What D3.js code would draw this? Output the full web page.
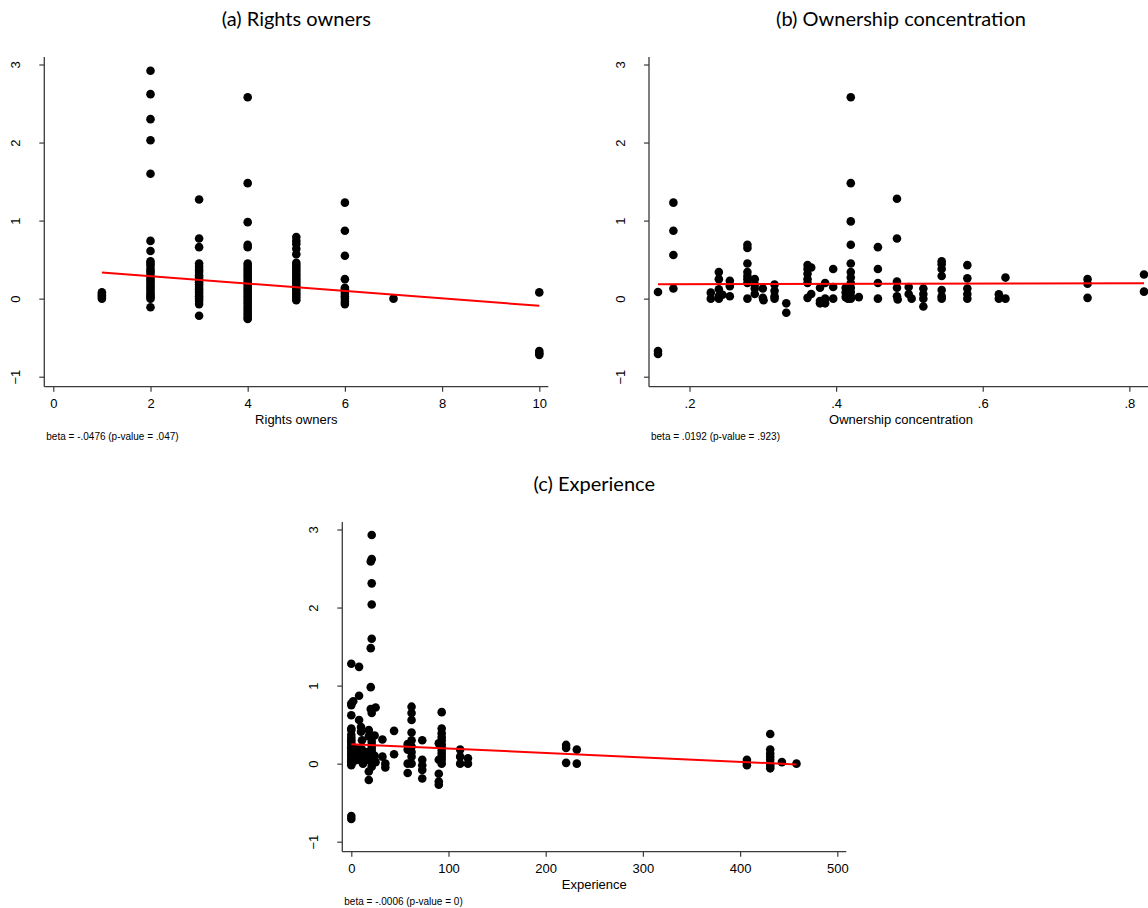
<!DOCTYPE html>
<html>
<head>
<meta charset="utf-8">
<script src="https://cdn.jsdelivr.net/npm/d3@7"></script>
<style>
  body { margin: 0; background: #fff; }
  svg { display: block; }
  .tick text { font-family: "Liberation Sans", Arial, sans-serif; font-size: 13px; fill: #000; }
</style>
</head>
<body>
<svg id="chart"></svg>
<script>
var width = 1148;
var height = 908;

// residuals vs number of rights owners
var rightsOwnersPts = [
  [1, 0.08], [1, 0.06], [1, 0.04], [1, 0.02], [1, 0.0],
  [2, 2.92], [2, 2.62], [2, 2.30], [2, 2.03], [2, 1.60], [2, 0.74], [2, 0.61], [2, 0.48], [2, 0.45],
  [2, 0.42], [2, 0.38], [2, 0.35], [2, 0.32], [2, 0.28], [2, 0.25], [2, 0.22], [2, 0.19], [2, 0.16],
  [2, 0.13], [2, 0.10], [2, 0.07], [2, 0.04], [2, 0.02], [2, 0.0], [2, -0.11],
  [3, 1.27], [3, 0.77], [3, 0.66], [3, 0.45], [3, 0.41], [3, 0.37], [3, 0.34], [3, 0.30], [3, 0.27],
  [3, 0.24], [3, 0.21], [3, 0.18], [3, 0.15], [3, 0.12], [3, 0.09], [3, 0.06], [3, 0.03], [3, 0.0],
  [3, -0.03], [3, -0.07], [3, -0.22],
  [4, 2.58], [4, 1.48], [4, 0.98], [4, 0.69], [4, 0.66], [4, 0.45], [4, 0.42], [4, 0.39], [4, 0.36],
  [4, 0.33], [4, 0.30], [4, 0.27], [4, 0.24], [4, 0.21], [4, 0.18], [4, 0.15], [4, 0.12], [4, 0.09],
  [4, 0.06], [4, 0.03], [4, 0.0], [4, -0.03], [4, -0.06], [4, -0.09], [4, -0.12], [4, -0.15], [4, -0.18],
  [4, -0.21], [4, -0.24], [4, -0.26],
  [5, 0.79], [5, 0.74], [5, 0.70], [5, 0.64], [5, 0.57], [5, 0.46], [5, 0.43], [5, 0.40], [5, 0.37],
  [5, 0.34], [5, 0.31], [5, 0.28], [5, 0.25], [5, 0.22], [5, 0.19], [5, 0.16], [5, 0.13], [5, 0.10],
  [5, 0.07], [5, 0.04], [5, 0.01], [5, -0.02],
  [6, 1.23], [6, 0.87], [6, 0.55], [6, 0.25], [6, 0.14], [6, 0.12], [6, 0.09], [6, 0.06], [6, 0.03],
  [6, 0.0], [6, -0.04], [6, -0.07],
  [7, 0.0],
  [10, 0.08], [10, -0.67], [10, -0.70], [10, -0.72]
];
var rightsOwnersFitX = [1, 10];
var rightsOwnersFitY = [0.336, -0.092];

// residuals vs ownership concentration
var concentrationPts = [
  [0.157, 0.085], [0.157, -0.67], [0.157, -0.71],
  [0.178, 1.23], [0.178, 0.87], [0.178, 0.56], [0.178, 0.13],
  [0.229, 0.077], [0.229, 0.0],
  [0.240, 0.34], [0.240, 0.25], [0.240, 0.12], [0.240, 0.03], [0.240, 0.0], [0.245, 0.05],
  [0.255, 0.23], [0.255, 0.16], [0.255, 0.03],
  [0.279, 0.69], [0.279, 0.65], [0.279, 0.45], [0.279, 0.34], [0.279, 0.29], [0.279, 0.25], [0.279, 0.20], [0.279, 0.0],
  [0.289, 0.25], [0.289, 0.18], [0.289, 0.13], [0.289, 0.06],
  [0.300, 0.13], [0.300, 0.01], [0.301, -0.02],
  [0.316, 0.18], [0.316, 0.10], [0.316, 0.03], [0.316, 0.0],
  [0.332, -0.06], [0.332, -0.18],
  [0.361, 0.43], [0.361, 0.38], [0.361, 0.32], [0.361, 0.25], [0.361, 0.20], [0.361, 0.01],
  [0.366, 0.40], [0.366, 0.06],
  [0.378, 0.14], [0.378, -0.03], [0.378, -0.06],
  [0.385, 0.20], [0.385, 0.0], [0.385, -0.06],
  [0.396, 0.38], [0.396, 0.15], [0.396, 0.0],
  [0.420, 2.58], [0.420, 1.48], [0.420, 0.99], [0.420, 0.69], [0.420, 0.45], [0.420, 0.34], [0.420, 0.27],
  [0.420, 0.20], [0.420, 0.14], [0.420, 0.085], [0.420, 0.03], [0.420, 0.0],
  [0.413, 0.14], [0.413, 0.08], [0.413, 0.02], [0.416, 0.11], [0.416, 0.0],
  [0.431, 0.02],
  [0.457, 0.66], [0.457, 0.38], [0.457, 0.20], [0.457, 0.0],
  [0.483, 1.28], [0.483, 0.77], [0.483, 0.22], [0.483, 0.14], [0.483, 0.03], [0.484, -0.01],
  [0.499, 0.15], [0.499, 0.06], [0.503, 0.0],
  [0.519, 0.13], [0.519, 0.06], [0.519, 0.0], [0.519, -0.10],
  [0.544, 0.48], [0.544, 0.44], [0.544, 0.38], [0.544, 0.29], [0.544, 0.11], [0.544, 0.03], [0.544, 0.0],
  [0.579, 0.43], [0.579, 0.26], [0.579, 0.13], [0.579, 0.06], [0.579, 0.0],
  [0.622, 0.055], [0.622, 0.0],
  [0.631, 0.27], [0.631, 0.0],
  [0.743, 0.25], [0.743, 0.19], [0.743, 0.01],
  [0.820, 0.31], [0.820, 0.09]
];
var concentrationFitX = [0.157, 0.820];
var concentrationFitY = [0.185, 0.198];

// residuals vs experience
var experiencePts = [
  [0, 1.28], [0, 0.77], [0, 0.75], [0, 0.62], [0, 0.45], [0, 0.43], [0, 0.37], [0, 0.33], [0, 0.30],
  [0, 0.27], [0, 0.24], [0, 0.21], [0, 0.18], [0, 0.15], [0, 0.12], [0, 0.09], [0, 0.06], [0, 0.03],
  [0, 0.0], [0, -0.02], [0, -0.67], [0, -0.71],
  [2, 0.80], [3, 0.20], [3, 0.10], [4, 0.04],
  [8, 1.24], [8, 0.87], [8, 0.56], [8, 0.18], [8, 0.12], [8, 0.05],
  [10, 0.47], [10, 0.41], [11, 0.30], [11, 0.18], [12, 0.09], [12, 0.0],
  [18, 0.43], [18, 0.35], [18, -0.10], [18, -0.21], [17, 0.15], [17, 0.05],
  [21, 2.93], [21, 2.62], [20, 2.59], [21, 2.31], [21, 2.04], [21, 1.60], [20, 1.48], [20, 0.98],
  [20, 0.70], [21, 0.65], [21, 0.33], [21, 0.28], [21, 0.24], [21, 0.20], [21, 0.16], [21, 0.12],
  [21, 0.08], [21, 0.04], [21, 0.0], [21, -0.04],
  [25, 0.72], [24, 0.36], [24, 0.10], [25, 0.02],
  [32, 0.31], [32, 0.09], [35, 0.0], [35, -0.05],
  [44, 0.42], [44, 0.12],
  [58, 0.25], [58, 0.18], [58, 0.0], [58, -0.12],
  [62, 0.73], [62, 0.65], [62, 0.56], [62, 0.40], [62, 0.30], [62, 0.22], [62, 0.15], [62, 0.09], [62, 0.0],
  [73, 0.30], [73, 0.05], [73, -0.02], [73, -0.08], [73, -0.19],
  [90, 0.26], [90, 0.05], [90, -0.13], [90, -0.23], [90, -0.27],
  [93, 0.66], [93, 0.45], [93, 0.39], [93, 0.34], [93, 0.30], [93, 0.25], [93, 0.21], [93, 0.17],
  [93, 0.13], [93, 0.09], [93, 0.05], [93, 0.0],
  [112, 0.18], [112, 0.09], [112, 0.0],
  [120, 0.07], [120, 0.0],
  [221, 0.24], [221, 0.20], [221, 0.01],
  [232, 0.18], [232, 0.0],
  [407, 0.05], [407, 0.01], [407, -0.02],
  [431, 0.38], [431, 0.18], [431, 0.13], [431, 0.09], [431, 0.05], [431, 0.0], [431, -0.03], [431, -0.06],
  [443, 0.02],
  [458, 0.0]
];
var experienceFitX = [0, 458];
var experienceFitY = [0.25, -0.01];

var yTicks = [-1, 0, 1, 2, 3];

var panels = [
  {
    title: "(a) Rights owners", xLabel: "Rights owners", note: "beta = -.0476 (p-value = .047)",
    pts: rightsOwnersPts, fitX: rightsOwnersFitX, fitY: rightsOwnersFitY,
    xTicks: [0, 2, 4, 6, 8, 10], fmt: d3.format("d"),
    left: 44.3, top: 0
  },
  {
    title: "(b) Ownership concentration", xLabel: "Ownership concentration", note: "beta = .0192 (p-value = .923)",
    pts: concentrationPts, fitX: concentrationFitX, fitY: concentrationFitY,
    xTicks: [0.2, 0.4, 0.6, 0.8], fmt: d => d3.format(".1f")(d).replace(/^0/, ""),
    left: 649, top: 0
  },
  {
    title: "(c) Experience", xLabel: "Experience", note: "beta = -.0006 (p-value = 0)",
    pts: experiencePts, fitX: experienceFitX, fitY: experienceFitY,
    xTicks: [0, 100, 200, 300, 400, 500], fmt: d3.format("d"),
    left: 342.3, top: 465
  }
];

var svg = d3.select("#chart")
    .attr("width", width)
    .attr("height", height);

var plotW = 504;     // axis length, px
var pad = 9;         // gap between axis ends and the data/tick extent
var axisColor = "#3a3a3a";

panels.forEach(function(p) {
  var g = svg.append("g").attr("transform", `translate(${p.left}, ${p.top})`);
  var bottom = 386.7;
  var topEdge = 57;

  // like stata: range covers both the data and the tick values
  var xDomain = d3.extent(p.xTicks.concat(p.pts.map(d => d[0])));
  var xScale = d3.scaleLinear()
      .domain(xDomain)
      .range([pad, plotW - pad]);
  // ticks for -1 .. 3 sit at 376.7 .. 64.5
  var yScale = d3.scaleLinear()
      .domain([-1, 3])
      .range([376.7, 64.5]);

  // title
  g.append("text")
      .attr("x", plotW / 2)
      .attr("y", 26)
      .attr("text-anchor", "middle")
      .style("font-family", "Lato, 'Open Sans', sans-serif")
      .style("font-size", "20px")
      .text(p.title);

  var xAxis = d3.axisBottom(xScale)
      .tickValues(p.xTicks)
      .tickFormat(p.fmt)
      .tickSize(5)
      .tickPadding(7);
  var yAxis = d3.axisLeft(yScale)
      .tickValues(yTicks)
      .tickFormat(d3.format("d"))
      .tickSize(5);

  var gx = g.append("g")
      .attr("transform", `translate(0, ${bottom})`)
      .call(xAxis);
  gx.select(".domain").remove();
  gx.selectAll(".tick line").attr("stroke", axisColor).attr("stroke-width", 1.2);

  var gy = g.append("g").call(yAxis);
  gy.select(".domain").remove();
  gy.selectAll(".tick line").attr("stroke", axisColor).attr("stroke-width", 1.2);
  gy.selectAll(".tick text")
      .attr("transform", "rotate(-90)")
      .attr("x", 0)
      .attr("y", -24)
      .attr("dy", 0)
      .attr("text-anchor", "middle");

  // axis lines
  g.append("line")
      .attr("x1", 0).attr("x2", 0)
      .attr("y1", topEdge).attr("y2", bottom)
      .attr("stroke", axisColor).attr("stroke-width", 1.3);
  g.append("line")
      .attr("x1", 0).attr("x2", plotW)
      .attr("y1", bottom).attr("y2", bottom)
      .attr("stroke", axisColor).attr("stroke-width", 1.3);

  // axis title + note
  g.append("text")
      .attr("x", plotW / 2)
      .attr("y", bottom + 37)
      .attr("text-anchor", "middle")
      .style("font-family", "'Liberation Sans', Arial, sans-serif")
      .style("font-size", "13px")
      .text(p.xLabel);

  g.append("text")
      .attr("x", 2)
      .attr("y", bottom + 53.5)
      .style("font-family", "'Liberation Sans', Arial, sans-serif")
      .style("font-size", "10px")
      .text(p.note);

  // points
  g.append("g")
    .selectAll("circle")
    .data(p.pts)
    .enter()
    .append("circle")
      .attr("cx", d => xScale(d[0]))
      .attr("cy", d => yScale(d[1]))
      .attr("r", 4.3)
      .attr("fill", "#000");

  // fitted line
  var fit = p.fitX.map((x, i) => [x, p.fitY[i]]);
  g.append("path")
      .datum(fit)
      .attr("fill", "none")
      .attr("stroke", "#ff0000")
      .attr("stroke-width", 2)
      .attr("d", d3.line().x(d => xScale(d[0])).y(d => yScale(d[1])));
});
</script>
</body>
</html>
